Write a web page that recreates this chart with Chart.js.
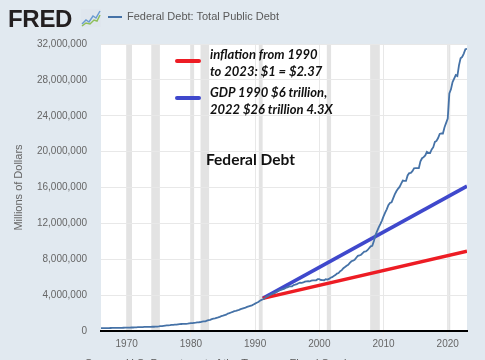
<!DOCTYPE html>
<html><head><meta charset="utf-8">
<script src="https://cdn.jsdelivr.net/npm/chart.js@4.4.0/dist/chart.umd.min.js"></script>
<style>
html,body{margin:0;padding:0;background:#e1e9f0;}
#wrap{position:relative;width:485px;height:360px;overflow:hidden;background:#e1e9f0;}
canvas{position:absolute;left:0;top:0;}
.t{position:absolute;white-space:nowrap;}
#logo{left:8px;top:5px;font:bold 24px "Liberation Sans",Arial,sans-serif;letter-spacing:-0.3px;color:#231f20;}
#leg{left:127px;top:10px;font:11px "Liberation Sans",Arial,sans-serif;color:#595959;}
#legline{position:absolute;left:108px;top:16px;width:14px;height:2px;background:#4572a7;}
.ann{font-family:Lato,"Open Sans",sans-serif;font-weight:bold;font-style:italic;font-size:13px;color:#111;line-height:16.5px;}
.mk{position:absolute;width:26px;height:4px;border-radius:2px;}
#fd{left:206px;top:150px;font:bold 15.5px Lato,"Open Sans",sans-serif;color:#111;}
#src{left:85px;top:357px;font:11px "Liberation Sans",Arial,sans-serif;color:#595959;}
</style></head>
<body><div id="wrap">
<canvas id="c" width="485" height="360"></canvas>
<div class="t" id="logo">FRED</div>
<svg style="position:absolute;left:81px;top:9px" width="20" height="18" viewBox="0 0 20 18">
<rect x="0" y="0" width="20" height="18" fill="#dfe6ee"/>
<polyline points="1,15 5,11 8,13 12,7 15,9 19,2" fill="none" stroke="#6a9bd1" stroke-width="1.5"/>
<polyline points="1,17 5,14 9,15 13,11 16,12 19,6" fill="none" stroke="#8fbf5a" stroke-width="1.5"/>
</svg>
<div id="legline"></div>
<div class="t" id="leg">Federal Debt: Total Public Debt</div>
<div class="mk" style="left:175px;top:59px;background:#ed1c24"></div>
<div class="t ann" style="left:210px;top:46px">inflation from 1990<br>to 2023: $1 = $2.37</div>
<div class="mk" style="left:175px;top:96px;background:#3f48cc"></div>
<div class="t ann" style="left:210px;top:84px">GDP 1990 $6 trillion,<br>2022 $26 trillion 4.3X</div>
<div class="t" id="fd">Federal Debt</div>
<div class="t" id="src">Source: U.S. Department of the Treasury. Fiscal Service</div>
</div>
<script>
const startYear = 1966;
const debt = [
320999,316097,324748,329319, 330947,322893,334153,344663, 350743,347578,356470,358029,
359444,353720,360130,368226, 372007,370919,381869,389158, 391672,398130,414949,424131,
427260,427751,437268,449298, 457316,458142,465814,469898, 474235,475060,483893,492665,
509690,533189,553648,576649, 599240,620433,634701,653544, 680116,685187,709138,718943,
744070,771544,780425,789207, 796758,804908,812239,845116, 870421,884361,914317,936686,
970920,977411,997855,1034718, 1065359,1083919,1147000,1201929, 1245305,1319573,1381886,1410702,
1463099,1517157,1576748,1667425, 1710654,1774640,1823103,1945941, 1986769,2059340,2125303,2214835,
2246711,2309280,2350277,2431715, 2487560,2547698,2602337,2684392, 2740879,2799867,2857431,2953003,
3052016,3143752,3233313,3364820, 3465249,3538029,3665303,3801698, 3881287,3984714,4064621,4177009,
4230580,4352044,4411489,4535687, 4575868,4645806,4692750,4800150, 4864116,4951372,4974000,4988665,
5117786,5161076,5224811,5323172, 5380886,5376151,5413146,5502388, 5542429,5547891,5526193,5614217,
5651615,5638779,5656271,5776091, 5773741,5685938,5674178,5662216, 5773740,5726815,5807463,5943439,
6006032,6126469,6228236,6405707, 6460776,6670121,6783231,6997964, 7131068,7274335,7379053,7596144,
7776939,7836496,7932710,8170414, 8371156,8420042,8507026,8680224, 8849666,8867676,9007653,9229172,
9437594,9492006,10024725,10699805, 11126941,11545275,11909829,12311350, 12773123,13201790,13561623,14025215,
14270114,14342738,14790340,15222940, 15582079,15855530,16066241,16432730, 16771375,16738184,16738184,17351971,
17601227,17632606,17824071,18141444, 18152056,18151998,18150618,18922179, 19264939,19381591,19573445,19976827,
19846420,19844554,20244900,20492874, 21089643,21195070,21516058,21974096, 22027880,22023283,22719402,23201380,
23686975,26477228,26945391,27747798, 28132570,28529436,28428919,29617215, 30400960,30568565,30928912,31419689,
31458438
];
const inflationLine = [{x:1991.2, y:3640000},{x:2023.0, y:8900000}];
const gdpLine = [{x:1991.2, y:3640000},{x:2023.0, y:16150000}];
const recessions = [[1969.92,1970.83],[1973.83,1975.17],[1980.0,1980.5],[1981.5,1982.83],[1990.58,1991.17],[2001.17,2001.83],[2007.92,2009.42],[2020.08,2020.25]];
const xTicks = [1970,1980,1990,2000,2010,2020];
const yTicks = [0,4000000,8000000,12000000,16000000,20000000,24000000,28000000,32000000];

const debtPts = debt.map((v,i)=>({x:startYear+i/4, y:v}));

const bgPlugin = {
  id:'bg',
  beforeDraw(chart){
    const {ctx, chartArea:a, scales:{x}} = chart;
    ctx.save();
    ctx.fillStyle='#ffffff';
    ctx.fillRect(a.left,a.top,a.right-a.left,a.bottom-a.top);
    ctx.fillStyle='#e3e3e3';
    recessions.forEach(([s,e])=>{
      const x0=x.getPixelForValue(s), x1=x.getPixelForValue(e);
      ctx.fillRect(x0,a.top,Math.max(x1-x0,2),a.bottom-a.top);
    });
    ctx.restore();
  }
};

new Chart(document.getElementById('c'),{
  type:'line',
  data:{datasets:[
    {data:inflationLine, borderColor:'#ed1c24', borderWidth:3.5, pointRadius:0, tension:0, order:1},
    {data:gdpLine, borderColor:'#3f48cc', borderWidth:3.5, pointRadius:0, tension:0, order:1},
    {data:debtPts, borderColor:'#4572a7', borderWidth:1.8, pointRadius:0, tension:0, order:0}
  ]},
  options:{
    responsive:false, animation:false, devicePixelRatio:1,
    layout:{padding:{left:0,right:18,top:44,bottom:0}},
    plugins:{legend:{display:false}, tooltip:{enabled:false}},
    scales:{
      x:{type:'linear', min:1966, max:2023,
        afterBuildTicks(s){ s.ticks = xTicks.map(v=>({value:v})); },
        afterFit(s){ s.height = 29; },
        grid:{color:'#e8e8e8', lineWidth:1, tickLength:6, drawOnChartArea:true},
        border:{display:true, color:'#000000', width:2},
        ticks:{padding:1, color:'#666666', font:{family:'"Liberation Sans", Arial, sans-serif', size:10}, maxRotation:0, callback:v=>String(v)}
      },
      y:{type:'linear', min:0, max:32000000,
        afterBuildTicks(s){ s.ticks = yTicks.map(v=>({value:v})); },
        afterFit(s){ s.width = 101; },
        grid:{color:'#e8e8e8', lineWidth:1, drawTicks:false},
        border:{display:false},
        ticks:{padding:14, color:'#666666', font:{family:'"Liberation Sans", Arial, sans-serif', size:10},
          callback:v=>v.toLocaleString('en-US')},
        title:{display:true, text:'Millions of Dollars', color:'#666666', padding:{top:12,bottom:0},
          font:{family:'"Liberation Sans", Arial, sans-serif', size:11}}
      }
    }
  },
  plugins:[bgPlugin]
});
</script>
</body></html>
